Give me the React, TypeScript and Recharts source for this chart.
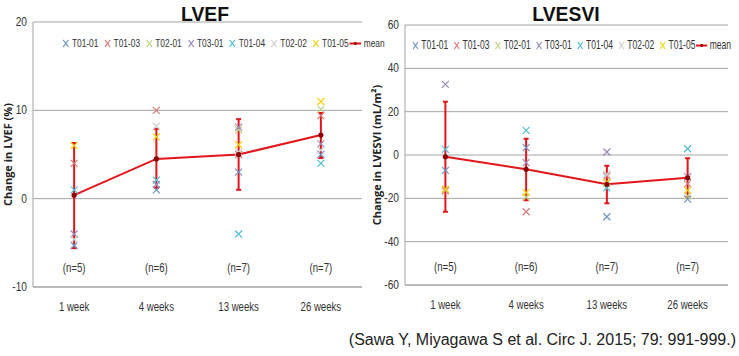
import { ComposedChart, Line, XAxis, YAxis, CartesianGrid, ErrorBar } from 'recharts';

const categories = ['1 week', '4 weeks', '13 weeks', '26 weeks'];
const nLabels = ['(n=5)', '(n=6)', '(n=7)', '(n=7)'];
const subjects = ['T01-01', 'T01-03', 'T02-01', 'T03-01', 'T01-04', 'T02-02', 'T01-05'];
const subjectColors = ['#6f95c4', '#d77b7c', '#bcd37e', '#9c88bb', '#4fc0d6', '#cfcfcf', '#f2d40f'];

// LVEF change (%), one array per subject, null = not measured
const lvefT0101 = [-5.3, 1.0, 3.0, 5.0];
const lvefT0103 = [4.0, 10.0, 5.0, 9.4];
const lvefT0201 = [null, null, 7.8, 10.1];
const lvefT0301 = [-4.0, 1.6, 8.1, 6.2];
const lvefT0104 = [1.0, 2.1, -4.0, 4.0];
const lvefT0202 = [-4.6, 8.2, 5.3, 5.5];
const lvefT0105 = [6.0, 7.0, 6.1, 11.0];
const lvefMean = [0.4, 4.5, 5.0, 7.2];
const lvefErrLow = [6.0, 3.3, 4.0, 2.6];
const lvefErrHigh = [5.9, 3.4, 4.0, 2.5];
const lvefTicks = [-10, 0, 10, 20];

// LVESVI change (mL/m2)
const esviT0101 = [-7.1, 3.4, -28.5, -20.4];
const esviT0103 = [-16.5, -26.2, -9.7, -13.2];
const esviT0201 = [null, -19.4, -13.0, -19.0];
const esviT0301 = [32.6, -3.5, 1.4, -10.0];
const esviT0104 = [2.6, 11.4, -15.1, 2.9];
const esviT0202 = [null, null, -8.9, -11.0];
const esviT0105 = [-15.8, -17.4, -12.5, -16.3];
const esviMean = [-0.8, -6.6, -13.5, -10.5];
const esviErrLow = [25.4, 14.3, 8.8, 8.9];
const esviErrHigh = [25.4, 14.1, 8.5, 9.0];
const esviTicks = [-60, -40, -20, 0, 20, 40, 60];

const keys = ['s0', 's1', 's2', 's3', 's4', 's5', 's6'];

function buildRows(series: (number | null)[][], mean: number[], lo: number[], hi: number[]) {
  return categories.map((cat, i) => {
    const row: any = { cat, n: nLabels[i], mean: mean[i], err: [lo[i], hi[i]] };
    series.forEach((s, k) => { row[keys[k]] = s[i]; });
    return row;
  });
}

const lvefData = buildRows(
  [lvefT0101, lvefT0103, lvefT0201, lvefT0301, lvefT0104, lvefT0202, lvefT0105],
  lvefMean, lvefErrLow, lvefErrHigh
);
const esviData = buildRows(
  [esviT0101, esviT0103, esviT0201, esviT0301, esviT0104, esviT0202, esviT0105],
  esviMean, esviErrLow, esviErrHigh
);

const sans = "'Liberation Sans', Arial, sans-serif";
const gridColor = '#a3a3a3';
const meanColor = '#e3151b';

const xMark = (color: string) => (props: any) => {
  const { cx, cy, index } = props;
  if (!Number.isFinite(cx) || !Number.isFinite(cy)) return <g key={index} />;
  const r = 3.5;
  return (
    <path
      key={index}
      d={`M${cx - r},${cy - r}L${cx + r},${cy + r}M${cx + r},${cy - r}L${cx - r},${cy + r}`}
      stroke={color}
      strokeWidth={1.2}
      fill="none"
    />
  );
};

// condensed text, to mimic the narrow Calibri of the original
const squeeze = (x: number, k: number) => `translate(${x},0) scale(${k},1) translate(${-x},0)`;

const makeTick = (nUp: number) => (props: any) => {
  const { x, y, payload, index } = props;
  return (
    <g key={index}>
      <text x={x} y={y - nUp} textAnchor="middle" fontSize={12} fontFamily={sans} fill="#333" transform={squeeze(x, 0.8)}>
        {nLabels[payload.index ?? index]}
      </text>
      <text x={x} y={y + 24} textAnchor="middle" fontSize={12} fontFamily={sans} fill="#333" transform={squeeze(x, 0.8)}>
        {payload.value}
      </text>
    </g>
  );
};

const yTick = (props: any) => {
  const { x, y, payload, index } = props;
  return (
    <text key={index} x={x} y={y} dy={4} textAnchor="end" fontSize={12} fontFamily={sans} fill="#333" transform={squeeze(x, 0.85)}>
      {payload.value}
    </text>
  );
};

function LegendRow({ fontSize, scale, style }: { fontSize: number; scale: number; style: any }) {
  return (
    <div style={{
      position: 'absolute', display: 'flex', alignItems: 'center', fontFamily: sans, fontSize, color: '#333',
      whiteSpace: 'nowrap', transform: `scaleX(${scale})`, transformOrigin: 'left center', ...style,
    }}>
      {subjects.map((s, i) => (
        <span key={s} style={{ display: 'flex', alignItems: 'center', marginRight: 7 }}>
          <svg width={10} height={9} style={{ marginRight: 3 }}>
            <path d="M1.5,1L8.5,8M8.5,1L1.5,8" stroke={subjectColors[i]} strokeWidth={1.3} />
          </svg>
          {s}
        </span>
      ))}
      <span style={{ display: 'flex', alignItems: 'center', marginLeft: -6 }}>
        <svg width={16} height={9} style={{ marginRight: 3 }}>
          <line x1={0} y1={4.5} x2={16} y2={4.5} stroke={meanColor} strokeWidth={2} />
          <rect x={6.5} y={3} width={3} height={3} fill="#8b0000" />
        </svg>
        mean
      </span>
    </div>
  );
}

function Panel(props: {
  data: any[]; width: number; domain: number[]; ticks: number[]; yLabel: string;
  margin: any; yWidth: number; nUp: number; labelOffset: number;
}) {
  const { data, width, domain, ticks, yLabel, margin, yWidth, nUp, labelOffset } = props;
  return (
    <ComposedChart width={width} height={320} data={data} margin={margin}>
      <CartesianGrid horizontal vertical={false} stroke={gridColor} />
      <XAxis
        dataKey="cat"
        scale="band"
        interval={0}
        tickSize={0}
        tickLine={false}
        tickMargin={0}
        height={30}
        axisLine={{ stroke: gridColor }}
        tick={makeTick(nUp)}
      />
      <YAxis
        domain={domain}
        ticks={ticks}
        interval={0}
        width={yWidth}
        tickSize={0}
        tickMargin={6}
        tickLine={false}
        axisLine={{ stroke: gridColor }}
        tick={yTick}
        label={{
          value: yLabel,
          angle: -90,
          position: 'insideLeft',
          offset: labelOffset,
          style: { textAnchor: 'middle', fontSize: 11, fontWeight: 700, fontFamily: "'Open Sans', sans-serif", fill: '#222' },
        }}
      />
      <YAxis
        yAxisId="frame"
        orientation="right"
        width={0}
        tick={false}
        tickLine={false}
        axisLine={{ stroke: gridColor }}
      />
      {keys.map((k, i) => (
        <Line
          key={k}
          dataKey={k}
          stroke="none"
          dot={xMark(subjectColors[i])}
          activeDot={false}
          isAnimationActive={false}
        />
      ))}
      <Line
        dataKey="mean"
        stroke={meanColor}
        strokeWidth={2}
        dot={{ r: 1.6, fill: '#8b0000', stroke: '#8b0000' }}
        activeDot={false}
        isAnimationActive={false}
      >
        <ErrorBar dataKey="err" width={2.5} stroke={meanColor} strokeWidth={2} direction="y" />
      </Line>
    </ComposedChart>
  );
}

export default function App() {
  const titleStyle: any = {
    position: 'absolute', top: 0, fontFamily: sans,
    fontWeight: 700, fontSize: 21, color: '#111', transform: 'translateX(-50%) scaleX(0.92)', lineHeight: '28px',
  };
  return (
    <div style={{ position: 'absolute', left: 0, top: 0, width: 739, height: 356, background: '#fff' }}>
      <div style={{ position: 'absolute', left: 0, top: 0 }}>
        <Panel
          data={lvefData}
          width={370}
          domain={[-10, 20]}
          ticks={lvefTicks}
          yLabel="Change in LVEF (%)"
          margin={{ top: 22, right: 8, bottom: 3, left: 0 }}
          yWidth={33}
          nUp={15}
          labelOffset={8}
        />
      </div>
      <div style={{ position: 'absolute', left: 370, top: 0 }}>
        <Panel
          data={esviData}
          width={369}
          domain={[-60, 60]}
          ticks={esviTicks}
          yLabel="Change in LVESVI (mL/m²)"
          margin={{ top: 25, right: 11, bottom: 5, left: 0 }}
          yWidth={35}
          nUp={14}
          labelOffset={7}
        />
      </div>
      <div style={{ ...titleStyle, left: 205 }}>LVEF</div>
      <div style={{ ...titleStyle, left: 566 }}>LVESVI</div>
      <LegendRow fontSize={11} scale={0.76} style={{ left: 62, top: 37 }} />
      <LegendRow fontSize={12} scale={0.71} style={{ left: 412, top: 38 }} />
      <div style={{ position: 'absolute', right: 3, top: 331, fontFamily: sans, fontSize: 16, color: '#222', whiteSpace: 'nowrap' }}>
        (Sawa Y, Miyagawa S et al. Circ J. 2015; 79: 991-999.)
      </div>
    </div>
  );
}
